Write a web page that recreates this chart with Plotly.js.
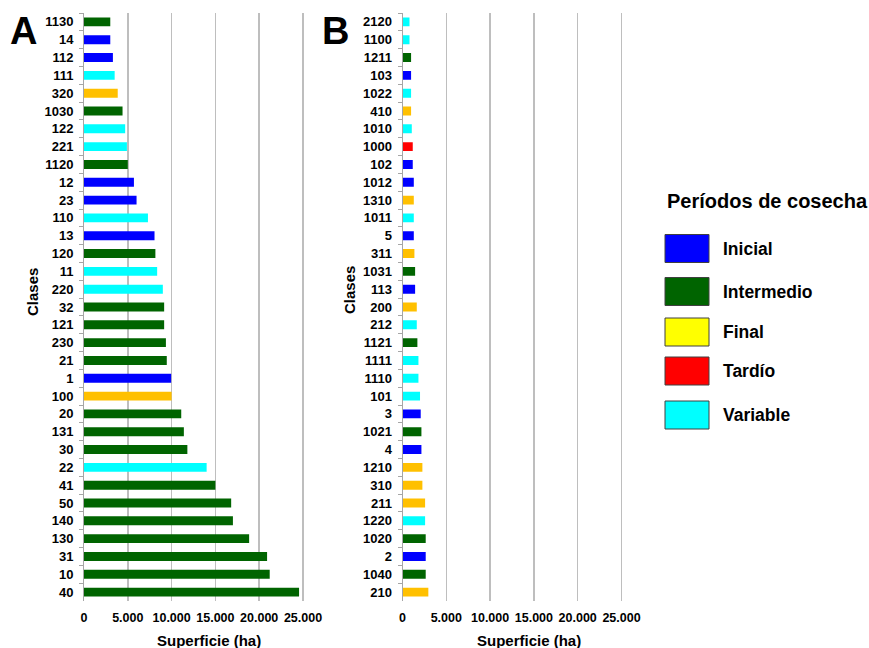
<!DOCTYPE html>
<html>
<head>
<meta charset="utf-8">
<script src="https://cdn.plot.ly/plotly-3.0.1.min.js"></script>
<style>html,body{margin:0;padding:0;background:#fff;}#chart{width:869px;height:648px;}</style>
</head>
<body>
<div id="chart"></div>
<script>
// Panel A (top to bottom)
const classesA = ["1130","14","112","111","320","1030","122","221","1120","12","23","110","13","120","11","220","32","121","230","21","1","100","20","131","30","22","41","50","140","130","31","10","40"];
const valuesA = [3000,3000,3300,3500,3850,4400,4700,4900,5000,5700,6000,7300,8050,8150,8350,9000,9150,9150,9350,9450,9950,10000,11100,11400,11800,14000,15000,16800,17000,18850,20900,21200,24550];
const periodA = ["Intermedio","Inicial","Inicial","Variable","Final","Intermedio","Variable","Variable","Intermedio","Inicial","Inicial","Variable","Inicial","Intermedio","Variable","Variable","Intermedio","Intermedio","Intermedio","Intermedio","Inicial","Final","Intermedio","Intermedio","Intermedio","Variable","Intermedio","Intermedio","Intermedio","Intermedio","Intermedio","Intermedio","Intermedio"];

// Panel B (top to bottom)
const classesB = ["2120","1100","1211","103","1022","410","1010","1000","102","1012","1310","1011","5","311","1031","113","200","212","1121","1111","1110","101","3","1021","4","1210","310","211","1220","1020","2","1040","210"];
const valuesB = [800,800,980,980,980,980,1060,1170,1170,1290,1290,1290,1290,1360,1440,1440,1630,1630,1700,1820,1820,2000,2080,2160,2160,2270,2270,2580,2580,2650,2650,2650,2950];
const periodB = ["Variable","Variable","Intermedio","Inicial","Variable","Final","Variable","Tardío","Inicial","Inicial","Final","Variable","Inicial","Final","Intermedio","Inicial","Final","Variable","Intermedio","Variable","Variable","Variable","Inicial","Intermedio","Inicial","Final","Final","Final","Variable","Intermedio","Inicial","Intermedio","Final"];

const xTicks = [0,5000,10000,15000,20000,25000];
const xTickText = ["0","5.000","10.000","15.000","20.000","25.000"];

const legendNames = ["Inicial","Intermedio","Final","Tardío","Variable"];
const barColors = {"Inicial":"#0000FF","Intermedio":"#006400","Final":"#FFC000","Tardío":"#FF0000","Variable":"#00FFFF"};
const legendColors = {"Inicial":"#0000FF","Intermedio":"#006400","Final":"#FFFF00","Tardío":"#FF0000","Variable":"#00FFFF"};

const W = 869, H = 648;
const px = x => x / W, py = y => 1 - y / H;
const FONT = "Liberation Sans, Arial, sans-serif";
const XMAX = 25200;                 // a little beyond 25.000 so the last gridline is kept
const PXPERUNIT = 219 / 25000;      // 0 -> 25.000 spans ~219 px

const traces = [
  {type:"bar", orientation:"h", y:classesA, x:valuesA, xaxis:"x", yaxis:"y",
   marker:{color:periodA.map(p=>barColors[p]), line:{width:0}}, showlegend:false, hoverinfo:"x+y"},
  {type:"bar", orientation:"h", y:classesB, x:valuesB, xaxis:"x2", yaxis:"y2",
   marker:{color:periodB.map(p=>barColors[p]), line:{width:0}}, showlegend:false, hoverinfo:"x+y"}
];

function xaxisDef(x0, anchor){
  return {domain:[px(x0), px(x0 + XMAX*PXPERUNIT)], anchor:anchor, range:[0,XMAX], tickvals:xTicks, ticktext:xTickText,
    showgrid:true, gridcolor:"#BEBEBE", gridwidth:1.5, zeroline:false, showline:false,
    ticks:"", ticklabelstandoff:7, tickfont:{family:FONT, size:12.5, color:"#000", weight:"bold"}, fixedrange:true};
}
function yaxisDef(anchor){
  return {domain:[py(601), py(13)], anchor:anchor, type:"category", autorange:false, range:[32.5,-0.5],
    showline:true, linecolor:"#A6A6A6", linewidth:1, ticks:"outside", tickson:"boundaries",
    ticklen:4, tickcolor:"#A6A6A6", ticklabelstandoff:7, showgrid:false, zeroline:false,
    tickfont:{family:FONT, size:13, color:"#000", weight:"bold"}, fixedrange:true};
}

function ann(text, x, y, size, extra){
  return Object.assign({text:text, x:px(x), y:py(y), xref:"paper", yref:"paper", xanchor:"center", yanchor:"middle",
    showarrow:false, font:{family:FONT, size:size, color:"#000", weight:"bold"}}, extra||{});
}

const annotations = [
  ann("A", 23, 31, 38),
  ann("B", 335, 31, 38),
  ann("Superficie (ha)", 209, 640, 15),
  ann("Superficie (ha)", 529, 640, 15),
  ann("Clases", 32, 292, 15, {textangle:-90}),
  ann("Clases", 349, 290, 15, {textangle:-90}),
  ann("Períodos de cosecha", 665, 201, 20, {xanchor:"left"})
];
const shapes = [];
const legendY = [248.5, 291.5, 332, 371, 415];
legendNames.forEach((n,i)=>{
  shapes.push({type:"rect", xref:"paper", yref:"paper", x0:px(665), x1:px(709), y0:py(legendY[i]-14), y1:py(legendY[i]+14),
    fillcolor:legendColors[n], line:{color:"#404040", width:1}});
  annotations.push(ann(n, 721, legendY[i], 17.5, {xanchor:"left"}));
});

const layout = {
  width:W, height:H, margin:{l:0,r:0,t:0,b:0}, paper_bgcolor:"#fff", plot_bgcolor:"#fff",
  bargap:0.5, showlegend:false,
  xaxis:xaxisDef(84, "y"), yaxis:yaxisDef("x"),
  xaxis2:xaxisDef(402.5, "y2"), yaxis2:yaxisDef("x2"),
  annotations:annotations, shapes:shapes
};

Plotly.newPlot("chart", traces, layout, {displayModeBar:false, staticPlot:true});
</script>
</body>
</html>
